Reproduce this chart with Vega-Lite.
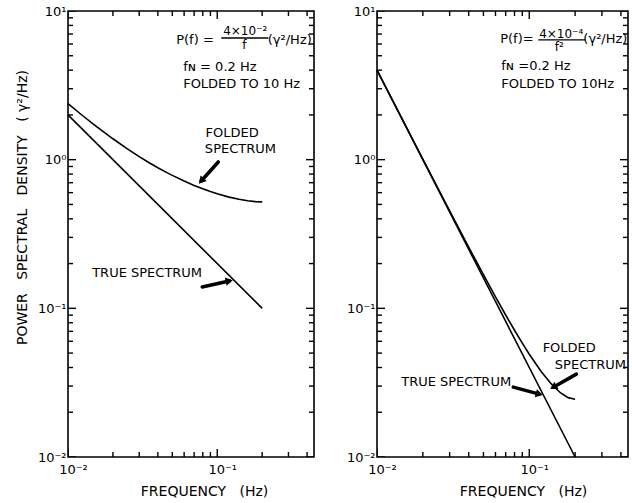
{
  "$schema": "https://vega.github.io/schema/vega-lite/v6.json",
  "padding": {"left": 14, "top": 4, "right": 0, "bottom": 0},
  "config": {
    "view": {"stroke": "black", "strokeWidth": 1.6},
    "font": "DejaVu Sans",
    "axis": {
      "domain": false, "ticks": false,
      "labelColor": "black", "labelFontSize": 13, "labelFont": "DejaVu Sans",
      "titleColor": "black", "titleFontSize": 14, "titleFontWeight": "normal", "titleFont": "DejaVu Sans",
      "grid": false, "labelOverlap": false, "labelFlush": false
    }
  },
  "datasets": {
    "xticks": [
      {"v": 0.01, "kind": "major"}, {"v": 0.02, "kind": "minor"}, {"v": 0.03, "kind": "minor"},
      {"v": 0.04, "kind": "minor"}, {"v": 0.05, "kind": "minor"}, {"v": 0.06, "kind": "minor"},
      {"v": 0.07, "kind": "minor"}, {"v": 0.08, "kind": "minor"}, {"v": 0.09, "kind": "minor"},
      {"v": 0.1, "kind": "major"}, {"v": 0.2, "kind": "minor"}, {"v": 0.3, "kind": "minor"},
      {"v": 0.4, "kind": "minor"}
    ],
    "yticks": [
      {"v": 0.01, "kind": "major"}, {"v": 0.02, "kind": "minor"}, {"v": 0.03, "kind": "minor"},
      {"v": 0.04, "kind": "minor"}, {"v": 0.05, "kind": "minor"}, {"v": 0.06, "kind": "minor"},
      {"v": 0.07, "kind": "minor"}, {"v": 0.08, "kind": "minor"}, {"v": 0.09, "kind": "minor"},
      {"v": 0.1, "kind": "major"}, {"v": 0.2, "kind": "minor"}, {"v": 0.3, "kind": "minor"},
      {"v": 0.4, "kind": "minor"}, {"v": 0.5, "kind": "minor"}, {"v": 0.6, "kind": "minor"},
      {"v": 0.7, "kind": "minor"}, {"v": 0.8, "kind": "minor"}, {"v": 0.9, "kind": "minor"},
      {"v": 1, "kind": "major"}, {"v": 2, "kind": "minor"}, {"v": 3, "kind": "minor"},
      {"v": 4, "kind": "minor"}, {"v": 5, "kind": "minor"}, {"v": 6, "kind": "minor"},
      {"v": 7, "kind": "minor"}, {"v": 8, "kind": "minor"}, {"v": 9, "kind": "minor"},
      {"v": 10, "kind": "major"}
    ],
    "curvesA": [
      {"series": "true", "f": 0.01, "p": 2.0},
      {"series": "true", "f": 0.2, "p": 0.1},
      {"series": "folded", "f": 0.01, "p": 2.382},
      {"series": "folded", "f": 0.0125, "p": 1.982},
      {"series": "folded", "f": 0.015, "p": 1.715},
      {"series": "folded", "f": 0.02, "p": 1.382},
      {"series": "folded", "f": 0.025, "p": 1.182},
      {"series": "folded", "f": 0.03, "p": 1.049},
      {"series": "folded", "f": 0.035, "p": 0.954},
      {"series": "folded", "f": 0.04, "p": 0.883},
      {"series": "folded", "f": 0.045, "p": 0.828},
      {"series": "folded", "f": 0.05, "p": 0.784},
      {"series": "folded", "f": 0.06, "p": 0.718},
      {"series": "folded", "f": 0.07, "p": 0.671},
      {"series": "folded", "f": 0.08, "p": 0.637},
      {"series": "folded", "f": 0.09, "p": 0.610},
      {"series": "folded", "f": 0.1, "p": 0.590},
      {"series": "folded", "f": 0.12, "p": 0.560},
      {"series": "folded", "f": 0.14, "p": 0.541},
      {"series": "folded", "f": 0.16, "p": 0.529},
      {"series": "folded", "f": 0.18, "p": 0.522},
      {"series": "folded", "f": 0.2, "p": 0.520}
    ],
    "curvesB": [
      {"series": "true", "f": 0.01, "p": 4.0},
      {"series": "true", "f": 0.2, "p": 0.01},
      {"series": "folded", "f": 0.01, "p": 4.008},
      {"series": "folded", "f": 0.02, "p": 1.008},
      {"series": "folded", "f": 0.03, "p": 0.4525},
      {"series": "folded", "f": 0.04, "p": 0.2582},
      {"series": "folded", "f": 0.05, "p": 0.1683},
      {"series": "folded", "f": 0.06, "p": 0.1195},
      {"series": "folded", "f": 0.07, "p": 0.0902},
      {"series": "folded", "f": 0.08, "p": 0.0712},
      {"series": "folded", "f": 0.09, "p": 0.0583},
      {"series": "folded", "f": 0.1, "p": 0.04915},
      {"series": "folded", "f": 0.12, "p": 0.0375},
      {"series": "folded", "f": 0.14, "p": 0.03088},
      {"series": "folded", "f": 0.16, "p": 0.02707},
      {"series": "folded", "f": 0.18, "p": 0.02508},
      {"series": "folded", "f": 0.2, "p": 0.02446}
    ],
    "notesA": [
      {"role": "L", "label": "P(f) =", "f": 0.0531, "p": 6.38},
      {"role": "C", "label": "4×10⁻²", "f": 0.154, "p": 7.34},
      {"role": "C", "label": "f", "f": 0.152, "p": 5.9},
      {"role": "L", "label": "(γ²/Hz)", "f": 0.218, "p": 6.38},
      {"role": "L", "label": "fɴ = 0.2 Hz", "f": 0.0591, "p": 4.2},
      {"role": "L", "label": "FOLDED  TO  10 Hz", "f": 0.0591, "p": 3.23},
      {"role": "N", "label": "FOLDED", "f": 0.126, "p": 1.51},
      {"role": "N", "label": "SPECTRUM", "f": 0.143, "p": 1.18},
      {"role": "N", "label": "TRUE  SPECTRUM", "f": 0.0339, "p": 0.173}
    ],
    "notesB": [
      {"role": "L", "label": "P(f)=", "f": 0.0644, "p": 6.49},
      {"role": "C", "label": "4×10⁻⁴", "f": 0.162, "p": 7.01},
      {"role": "C", "label": "f²", "f": 0.1575, "p": 5.73},
      {"role": "L", "label": "(γ²/Hz)", "f": 0.2266, "p": 6.49},
      {"role": "L", "label": "fɴ =0.2 Hz", "f": 0.0655, "p": 4.27},
      {"role": "L", "label": "FOLDED  TO  10Hz", "f": 0.0655, "p": 3.24},
      {"role": "N", "label": "FOLDED", "f": 0.183, "p": 0.0539},
      {"role": "N", "label": "SPECTRUM", "f": 0.252, "p": 0.0414},
      {"role": "N", "label": "TRUE SPECTRUM", "f": 0.0331, "p": 0.0319}
    ],
    "barsA": [{"f": 0.1064, "f2": 0.2199, "p": 6.58}],
    "barsB": [{"f": 0.1146, "f2": 0.2335, "p": 6.39}],
    "arrowsA": [
      {"arrow": "folded", "pt": "tail", "f": 0.1016, "p": 0.965},
      {"arrow": "folded", "pt": "head", "f": 0.0781, "p": 0.719, "angle": 222},
      {"arrow": "true", "pt": "tail", "f": 0.0793, "p": 0.1393},
      {"arrow": "true", "pt": "head", "f": 0.1203, "p": 0.1528, "angle": 78}
    ],
    "arrowsB": [
      {"arrow": "folded", "pt": "tail", "f": 0.2038, "p": 0.0361},
      {"arrow": "folded", "pt": "head", "f": 0.1438, "p": 0.0295, "angle": 240},
      {"arrow": "true", "pt": "tail", "f": 0.0785, "p": 0.0295},
      {"arrow": "true", "pt": "head", "f": 0.1164, "p": 0.02647, "angle": 105}
    ]
  },
  "spacing": 30,
  "hconcat": [
    {
      "width": 246, "height": 446,
      "resolve": {"axis": {"x": "independent", "y": "independent"}},
      "layer": [
        {
          "data": {"name": "curvesA"},
          "mark": {"type": "line", "color": "black", "strokeWidth": 1.6},
          "encoding": {
            "x": {"field": "f", "type": "quantitative",
              "scale": {"type": "log", "domain": [0.01, 0.445], "nice": false},
              "axis": {"orient": "bottom", "values": [0.01, 0.1],
                "labelExpr": "datum.value < 0.05 ? '10⁻²' : '10⁻¹'",
                "labelPadding": 6, "labelOffset": 5,
                "title": "FREQUENCY\u00a0\u00a0\u00a0(Hz)", "titleX": 136, "titlePadding": 8}},
            "y": {"field": "p", "type": "quantitative",
              "scale": {"type": "log", "domain": [0.01, 10], "nice": false},
              "axis": {"orient": "left", "values": [0.01, 0.1, 1, 10],
                "labelExpr": "datum.value < 0.05 ? '10⁻²' : datum.value < 0.5 ? '10⁻¹' : datum.value < 5 ? '10⁰' : '10¹'",
                "labelPadding": 2,
                "title": "POWER\u00a0\u00a0\u00a0SPECTRAL\u00a0\u00a0\u00a0DENSITY\u00a0\u00a0\u00a0(\u00a0γ²/Hz)", "titleY": 196, "titlePadding": 8}},
            "detail": {"field": "series"}
          }
        },
        {
          "data": {"name": "xticks"},
          "mark": {"type": "tick", "orient": "vertical", "color": "black", "thickness": 1.4, "clip": true, "opacity": 1},
          "encoding": {
            "x": {"field": "v", "type": "quantitative", "axis": null},
            "y": {"datum": 0.01, "type": "quantitative", "axis": null},
            "size": {"field": "kind", "type": "nominal", "scale": {"domain": ["major", "minor"], "range": [16, 10]}, "legend": null}
          }
        },
        {
          "data": {"name": "xticks"},
          "mark": {"type": "tick", "orient": "vertical", "color": "black", "thickness": 1.4, "clip": true, "opacity": 1},
          "encoding": {
            "x": {"field": "v", "type": "quantitative", "axis": null},
            "y": {"datum": 10, "type": "quantitative", "axis": null},
            "size": {"field": "kind", "type": "nominal", "scale": {"domain": ["major", "minor"], "range": [16, 10]}, "legend": null}
          }
        },
        {
          "data": {"name": "yticks"},
          "mark": {"type": "tick", "orient": "horizontal", "color": "black", "thickness": 1.4, "clip": true, "opacity": 1},
          "encoding": {
            "y": {"field": "v", "type": "quantitative", "axis": null},
            "x": {"datum": 0.01, "type": "quantitative", "axis": null},
            "size": {"field": "kind", "type": "nominal", "scale": {"domain": ["major", "minor"], "range": [16, 10]}, "legend": null}
          }
        },
        {
          "data": {"name": "yticks"},
          "mark": {"type": "tick", "orient": "horizontal", "color": "black", "thickness": 1.4, "clip": true, "opacity": 1},
          "encoding": {
            "y": {"field": "v", "type": "quantitative", "axis": null},
            "x": {"datum": 0.445, "type": "quantitative", "axis": null},
            "size": {"field": "kind", "type": "nominal", "scale": {"domain": ["major", "minor"], "range": [16, 10]}, "legend": null}
          }
        },
        {
          "data": {"name": "notesA"},
          "transform": [{"filter": "datum.role == 'L'"}],
          "mark": {"type": "text", "align": "left", "baseline": "middle", "fontSize": 13, "color": "black"},
          "encoding": {
            "x": {"field": "f", "type": "quantitative", "axis": null},
            "y": {"field": "p", "type": "quantitative", "axis": null},
            "text": {"field": "label"}
          }
        },
        {
          "data": {"name": "notesA"},
          "transform": [{"filter": "datum.role == 'C'"}],
          "mark": {"type": "text", "align": "center", "baseline": "middle", "fontSize": 12, "color": "black"},
          "encoding": {
            "x": {"field": "f", "type": "quantitative", "axis": null},
            "y": {"field": "p", "type": "quantitative", "axis": null},
            "text": {"field": "label"}
          }
        },
        {
          "data": {"name": "notesA"},
          "transform": [{"filter": "datum.role == 'N'"}],
          "mark": {"type": "text", "align": "center", "baseline": "middle", "fontSize": 13, "color": "black"},
          "encoding": {
            "x": {"field": "f", "type": "quantitative", "axis": null},
            "y": {"field": "p", "type": "quantitative", "axis": null},
            "text": {"field": "label"}
          }
        },
        {
          "data": {"name": "barsA"},
          "mark": {"type": "rule", "color": "black", "strokeWidth": 1.3},
          "encoding": {
            "x": {"field": "f", "type": "quantitative", "axis": null},
            "x2": {"field": "f2"},
            "y": {"field": "p", "type": "quantitative", "axis": null}
          }
        },
        {
          "data": {"name": "arrowsA"},
          "mark": {"type": "line", "color": "black", "strokeWidth": 3.5, "strokeCap": "round"},
          "encoding": {
            "x": {"field": "f", "type": "quantitative", "axis": null},
            "y": {"field": "p", "type": "quantitative", "axis": null},
            "detail": {"field": "arrow"}
          }
        },
        {
          "data": {"name": "arrowsA"},
          "transform": [{"filter": "datum.pt == 'head'"}],
          "mark": {"type": "point", "shape": "triangle-up", "filled": true, "color": "black", "size": 70, "opacity": 1},
          "encoding": {
            "x": {"field": "f", "type": "quantitative", "axis": null},
            "y": {"field": "p", "type": "quantitative", "axis": null},
            "angle": {"field": "angle", "type": "quantitative", "scale": null}
          }
        }
      ]
    },
    {
      "width": 251, "height": 446,
      "resolve": {"axis": {"x": "independent", "y": "independent"}},
      "layer": [
        {
          "data": {"name": "curvesB"},
          "mark": {"type": "line", "color": "black", "strokeWidth": 1.6},
          "encoding": {
            "x": {"field": "f", "type": "quantitative",
              "scale": {"type": "log", "domain": [0.01, 0.445], "nice": false},
              "axis": {"orient": "bottom", "values": [0.01, 0.1],
                "labelExpr": "datum.value < 0.05 ? '10⁻²' : '10⁻¹'",
                "labelPadding": 6, "labelOffset": 5,
                "title": "FREQUENCY\u00a0\u00a0\u00a0(Hz)", "titleX": 146, "titlePadding": 8}},
            "y": {"field": "p", "type": "quantitative",
              "scale": {"type": "log", "domain": [0.01, 10], "nice": false},
              "axis": {"orient": "left", "values": [0.01, 0.1, 1, 10],
                "labelExpr": "datum.value < 0.05 ? '10⁻²' : datum.value < 0.5 ? '10⁻¹' : datum.value < 5 ? '10⁰' : '10¹'",
                "labelPadding": 2, "title": null}},
            "detail": {"field": "series"}
          }
        },
        {
          "data": {"name": "xticks"},
          "mark": {"type": "tick", "orient": "vertical", "color": "black", "thickness": 1.4, "clip": true, "opacity": 1},
          "encoding": {
            "x": {"field": "v", "type": "quantitative", "axis": null},
            "y": {"datum": 0.01, "type": "quantitative", "axis": null},
            "size": {"field": "kind", "type": "nominal", "scale": {"domain": ["major", "minor"], "range": [16, 10]}, "legend": null}
          }
        },
        {
          "data": {"name": "xticks"},
          "mark": {"type": "tick", "orient": "vertical", "color": "black", "thickness": 1.4, "clip": true, "opacity": 1},
          "encoding": {
            "x": {"field": "v", "type": "quantitative", "axis": null},
            "y": {"datum": 10, "type": "quantitative", "axis": null},
            "size": {"field": "kind", "type": "nominal", "scale": {"domain": ["major", "minor"], "range": [16, 10]}, "legend": null}
          }
        },
        {
          "data": {"name": "yticks"},
          "mark": {"type": "tick", "orient": "horizontal", "color": "black", "thickness": 1.4, "clip": true, "opacity": 1},
          "encoding": {
            "y": {"field": "v", "type": "quantitative", "axis": null},
            "x": {"datum": 0.01, "type": "quantitative", "axis": null},
            "size": {"field": "kind", "type": "nominal", "scale": {"domain": ["major", "minor"], "range": [16, 10]}, "legend": null}
          }
        },
        {
          "data": {"name": "yticks"},
          "mark": {"type": "tick", "orient": "horizontal", "color": "black", "thickness": 1.4, "clip": true, "opacity": 1},
          "encoding": {
            "y": {"field": "v", "type": "quantitative", "axis": null},
            "x": {"datum": 0.445, "type": "quantitative", "axis": null},
            "size": {"field": "kind", "type": "nominal", "scale": {"domain": ["major", "minor"], "range": [16, 10]}, "legend": null}
          }
        },
        {
          "data": {"name": "notesB"},
          "transform": [{"filter": "datum.role == 'L'"}],
          "mark": {"type": "text", "align": "left", "baseline": "middle", "fontSize": 13, "color": "black", "clip": true},
          "encoding": {
            "x": {"field": "f", "type": "quantitative", "axis": null},
            "y": {"field": "p", "type": "quantitative", "axis": null},
            "text": {"field": "label"}
          }
        },
        {
          "data": {"name": "notesB"},
          "transform": [{"filter": "datum.role == 'C'"}],
          "mark": {"type": "text", "align": "center", "baseline": "middle", "fontSize": 12, "color": "black", "clip": true},
          "encoding": {
            "x": {"field": "f", "type": "quantitative", "axis": null},
            "y": {"field": "p", "type": "quantitative", "axis": null},
            "text": {"field": "label"}
          }
        },
        {
          "data": {"name": "notesB"},
          "transform": [{"filter": "datum.role == 'N'"}],
          "mark": {"type": "text", "align": "center", "baseline": "middle", "fontSize": 13, "color": "black", "clip": true},
          "encoding": {
            "x": {"field": "f", "type": "quantitative", "axis": null},
            "y": {"field": "p", "type": "quantitative", "axis": null},
            "text": {"field": "label"}
          }
        },
        {
          "data": {"name": "barsB"},
          "mark": {"type": "rule", "color": "black", "strokeWidth": 1.3},
          "encoding": {
            "x": {"field": "f", "type": "quantitative", "axis": null},
            "x2": {"field": "f2"},
            "y": {"field": "p", "type": "quantitative", "axis": null}
          }
        },
        {
          "data": {"name": "arrowsB"},
          "mark": {"type": "line", "color": "black", "strokeWidth": 3.5, "strokeCap": "round"},
          "encoding": {
            "x": {"field": "f", "type": "quantitative", "axis": null},
            "y": {"field": "p", "type": "quantitative", "axis": null},
            "detail": {"field": "arrow"}
          }
        },
        {
          "data": {"name": "arrowsB"},
          "transform": [{"filter": "datum.pt == 'head'"}],
          "mark": {"type": "point", "shape": "triangle-up", "filled": true, "color": "black", "size": 70, "opacity": 1},
          "encoding": {
            "x": {"field": "f", "type": "quantitative", "axis": null},
            "y": {"field": "p", "type": "quantitative", "axis": null},
            "angle": {"field": "angle", "type": "quantitative", "scale": null}
          }
        }
      ]
    }
  ]
}
